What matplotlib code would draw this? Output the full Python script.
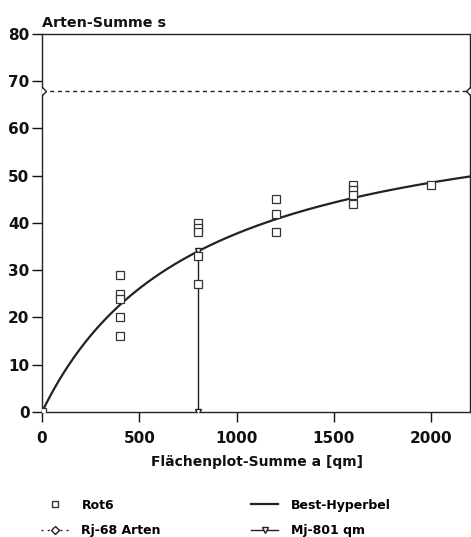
import numpy as np
import matplotlib.pyplot as plt
from matplotlib.lines import Line2D

plt.rcParams["font.family"] = "DejaVu Sans"
plt.rcParams["font.weight"] = "bold"

# ─── Data ─────────────────────────────────────────────────────────────────────
rot6_x = [0, 400, 400, 400, 400, 400, 800, 800, 800, 800, 800,
          1200, 1200, 1200, 1600, 1600, 1600, 1600, 2000]
rot6_y = [0, 29, 25, 24, 20, 16, 40, 39, 38, 33, 27,
          45, 42, 38, 48, 47, 46, 44, 48]

RJ = 68    # Arten (asymptote)
MJ = 801   # qm (half saturation)

X_MAX = 2200
curve_x = np.linspace(0, X_MAX, 300)
curve_y = RJ * curve_x / (MJ + curve_x)   # Best-Hyperbel

rj_x = [0, X_MAX]
rj_y = [RJ, RJ]
mj_x = [MJ, MJ]
mj_y = [0, RJ * MJ / (MJ + MJ)]

x_ticks = [0, 500, 1000, 1500, 2000]
y_ticks = [0, 10, 20, 30, 40, 50, 60, 70, 80]

# ─── Plot ─────────────────────────────────────────────────────────────────────
fig = plt.figure(figsize=(4.71, 5.37), dpi=100)
ax = fig.add_axes([0.0892, 0.2328, 0.909, 0.7039])

ax.plot(curve_x, curve_y, color="#222222", lw=1.6, zorder=3)
ax.plot(rj_x, rj_y, color="#222222", lw=1.0, ls=(0, (3, 2.5)),
        marker="D", ms=4.5, mfc="white", mec="#222222", zorder=3)
ax.plot(mj_x, mj_y, color="#222222", lw=1.0, marker="v", ms=5,
        mfc="white", mec="#222222", zorder=4)
ax.plot(rot6_x, rot6_y, ls="none", marker="s", ms=5.5, mfc="white",
        mec="#333333", mew=0.9, zorder=5)

ax.set_xlim(0, X_MAX)
ax.set_ylim(0, 80)
ax.set_xticks(x_ticks)
ax.set_yticks(y_ticks)
ax.tick_params(direction="out", length=7, width=1.0, labelsize=11,
               colors="#111111")
ax.tick_params(axis="x", pad=7)
ax.tick_params(axis="y", pad=2)
for s in ax.spines.values():
    s.set_linewidth(1.0)
    s.set_color("#222222")

fig.text(0.0892, 0.958, "Arten-Summe s", fontsize=10.3, fontweight="bold",
         ha="left", va="center", color="#111111")
fig.text(0.545, 0.140, "Flächenplot-Summe a [qm]", fontsize=10,
         fontweight="bold", ha="center", va="center", color="#111111")

handles = [
    Line2D([], [], ls="none", marker="s", ms=5, mfc="white", mec="#333333"),
    Line2D([], [], color="#222222", lw=1.0, ls=(0, (1.5, 3)), marker="D",
           ms=4.5, mfc="white", mec="#222222"),
    Line2D([], [], color="#222222", lw=1.6),
    Line2D([], [], color="#222222", lw=1.0, marker="v", ms=5,
           mfc="white", mec="#222222"),
]
labels = ["Rot6", "Rj-68 Arten", "Best-Hyperbel", "Mj-801 qm"]
fig.legend(handles, labels, loc="lower left", bbox_to_anchor=(0.064, -0.021),
           ncol=2, frameon=False, fontsize=9, handlelength=2.2,
           columnspacing=7.2, labelspacing=1.0, handletextpad=1.0)

plt.savefig("out.png", dpi=100)
